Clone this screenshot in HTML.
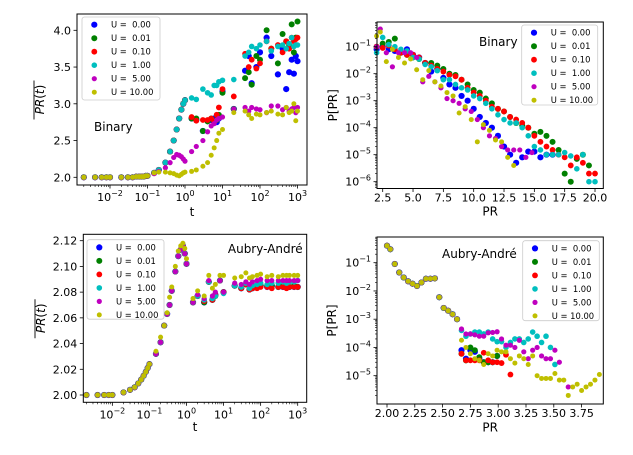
<!DOCTYPE html>
<html><head><meta charset="utf-8"><style>
html,body{margin:0;padding:0;background:#fff;}
svg{display:block;font-family:"DejaVu Sans","Liberation Sans",sans-serif;}
</style></head><body>
<svg id="fig" width="633" height="455" viewBox="0 0 633 455" xmlns="http://www.w3.org/2000/svg"></svg>
<script>
// ---- shared legend data ----
const seriesLabels=['U =  0.00','U =  0.01','U =  0.10','U =  1.00','U =  5.00','U = 10.00'];
const seriesColors=['#0000ff','#008000','#ff0000','#00bfbf','#bf00bf','#bfbf00'];

// ---- Panel 1: Binary PR(t) ----
const binT=[0.002,0.004,0.006,0.008,0.01,0.02,0.03,0.04,0.05,0.06,0.07,0.08,0.09,0.1,
 0.15,0.2,0.3,0.4,0.5,0.6,0.7,0.8,0.9,1.0,
 1.5,2,3,4,5,6,7,8,10,20,40,50,60,80,100,150,200,300,400,500,600,700,800,900,1000];
const binEarly=[2,2,2,2,2,2,2,2,2.01,2.01,2.01,2.01,2.02,2.02];
const binMidHigh=[2.06,2.1,2.2,2.35,2.5,2.65,2.8,2.92,3.0,3.05];
const binMidU5=[2.05,2.08,2.13,2.2,2.27,2.31,2.3,2.28,2.25,2.22];
const binMidU10=[2.06,2.07,2.07,2.06,2.05,2.03,2.02,2.04,2.06,2.07];
const binLateU0=[2.8,2.78,2.63,2.77,2.78,2.8,2.75,2.8,3.17,2.93,3.45,3.65,3.28,3.5,3.7,3.9,3.65,3.4,3.75,3.2,3.43,3.6,3.41,3.65,3.58];
const binLateU001=[2.8,2.8,2.63,2.76,2.8,2.76,2.78,2.85,3.15,2.93,3.35,3.43,3.26,3.65,3.6,4.0,3.75,3.55,3.95,3.85,3.8,4.08,3.7,3.9,4.12];
const binLateU01=[2.82,2.77,2.78,2.78,2.8,2.76,2.85,2.95,3.2,3.1,3.68,3.5,3.6,3.48,3.55,3.85,3.75,3.8,3.7,3.85,3.75,3.9,3.85,3.88,3.9];
const binLateU1=[3.08,3.06,3.2,3.15,3.12,3.25,3.25,3.3,3.32,3.33,3.65,3.7,3.78,3.75,3.8,3.85,3.72,3.78,3.8,3.75,3.82,3.9,3.78,3.8,3.8];
const binLateU5=[2.35,2.42,2.5,2.62,2.7,2.73,2.78,2.8,2.82,2.93,2.95,2.9,2.95,2.93,2.92,2.88,2.97,2.97,2.92,2.95,2.9,2.93,2.95,2.88,2.95];
const binLateU10=[2.08,2.1,2.15,2.2,2.3,2.4,2.5,2.6,2.65,2.88,2.9,2.85,2.8,2.86,2.85,2.88,2.9,2.86,2.85,2.95,2.88,2.9,3.0,2.77,2.9];

// ---- Panel 3: Aubry-André PR(t) ----
const aaT=[0.002,0.004,0.006,0.008,0.01,0.02,0.03,0.04,0.05,0.06,0.07,0.08,0.09,0.1,0.15,0.2,0.25,0.3,0.35,0.4,0.5,0.6,0.7,0.8,0.9,1.0,
 1.5,2,3,4,5,6,8,10,20,30,40,50,60,80,100,150,200,300,400,500,600,800,1000];
const aaEarly=[2.000,2.000,2.000,2.000,2.000,2.002,2.004,2.006,2.009,2.012,2.015,2.018,2.021,2.024,2.032,2.041,2.054,2.063,2.070,2.081,2.096,2.108,2.113,2.116,2.110,2.102];
const aaEarlyU10=[2.000,2.000,2.000,2.000,2.000,2.002,2.004,2.006,2.009,2.012,2.015,2.018,2.021,2.024,2.034,2.045,2.054,2.064,2.076,2.084,2.100,2.112,2.116,2.118,2.114,2.106];
const aaLateU0=[2.072,2.077,2.072,2.088,2.074,2.078,2.089,2.080,2.085,2.083,2.086,2.082,2.083,2.084,2.085,2.084,2.085,2.084,2.084,2.085,2.084,2.084,2.084];
const aaLateU001=[2.072,2.077,2.072,2.088,2.074,2.077,2.089,2.080,2.085,2.083,2.086,2.082,2.083,2.084,2.085,2.085,2.085,2.084,2.085,2.085,2.084,2.085,2.084];
const aaLateU01=[2.072,2.077,2.073,2.088,2.074,2.078,2.089,2.080,2.085,2.083,2.086,2.082,2.083,2.083,2.084,2.084,2.083,2.084,2.084,2.083,2.084,2.084,2.084];
const aaLateU1=[2.072,2.077,2.074,2.088,2.075,2.077,2.089,2.079,2.085,2.084,2.087,2.083,2.085,2.086,2.087,2.086,2.087,2.087,2.088,2.087,2.088,2.088,2.089];
const aaLateU5=[2.072,2.078,2.075,2.089,2.077,2.080,2.089,2.080,2.087,2.086,2.088,2.086,2.088,2.089,2.090,2.089,2.089,2.089,2.089,2.089,2.089,2.089,2.089];
const aaLateU10=[2.075,2.081,2.077,2.093,2.083,2.086,2.093,2.093,2.091,2.092,2.095,2.091,2.092,2.093,2.094,2.092,2.093,2.092,2.093,2.093,2.093,2.093,2.093];

// ---- Panel 2: Binary P[PR] ----
const pbX0=[2,2.5,3,3.5,4,4.5,5,5.5,6,6.5,7,7.5,8,8.5,9,9.5,10,10.5,11,11.5,12,12.5,13,13.5,14,14.5,15,15.5,16,16.5];
const pbP0=[8e-2,1e-1,8e-2,7e-2,6e-2,8e-2,5e-2,4e-2,2.5e-2,1.2e-2,1.5e-2,7e-3,4e-3,3e-3,1.5e-3,1e-3,5e-4,2.5e-4,1.5e-4,1e-4,5e-5,2e-5,1e-5,5e-6,8e-6,1.3e-5,1.3e-5,8e-6,1e-5,1e-5];
const pbX1=[2,2.5,3,3.5,4,4.5,5,5.5,6,6.5,7,7.5,8,8.5,9,9.5,10,10.5,11,11.5,12,12.5,13,13.5,14,14.5,15,15.5,16,16.5,17,17.5,18,18.5,19,19.5];
const pbP1=[1e-1,1.3e-1,1.5e-1,2e-1,6e-2,5e-2,4e-2,3.5e-2,2.5e-2,2.5e-2,2e-2,1.5e-2,1e-2,9e-3,6e-3,4e-3,2.5e-3,2e-3,1.2e-3,8e-4,5e-4,4e-4,2.5e-4,1.5e-4,1.2e-4,1e-4,6e-5,7e-5,5e-5,3e-5,1.5e-5,2e-6,1e-6,7e-6,1e-5,4e-6];
const pbX2=[2,2.5,3,3.5,4,4.5,5,5.5,6,6.5,7,7.5,8,8.5,9,9.5,10,10.5,11,11.5,12,12.5,13,13.5,14,14.5,15,15.5,16,16.5,17,17.5,18,18.5,19,19.5,20];
const pbP2=[1e-1,9e-2,1.1e-1,8e-2,6e-2,5e-2,5e-2,4e-2,2.5e-2,2e-2,1.5e-2,1.2e-2,9e-3,8e-3,6e-3,3e-3,2e-3,1.5e-3,1e-3,6e-4,5e-4,4e-4,2.5e-4,2e-4,1.5e-4,1e-4,5e-5,3e-5,2e-5,1.5e-5,1e-5,8e-6,4e-6,8e-6,5e-6,2e-6,2e-6];
const pbX3=[2,2.5,3,3.5,4,4.5,5,5.5,6,6.5,7,7.5,8,8.5,9,9.5,10,10.5,11,11.5,12,12.5,13,13.5,14,14.5,15,15.5,16,16.5,17,17.5,18,18.5,19,19.5,20];
const pbP3=[6e-2,2.2e-1,1.2e-1,1e-1,8e-2,7e-2,4e-2,3.5e-2,2.2e-2,1.8e-2,1.3e-2,6e-3,6e-3,4e-3,3e-3,2.5e-3,1.5e-3,1.2e-3,8e-4,5e-4,3e-4,2e-4,1.5e-4,1.5e-4,1e-4,5e-5,2e-5,1.5e-5,1e-5,1e-5,1e-5,1.2e-5,9e-6,3e-6,1e-5,1e-6,1e-6];
const pbX4=[2,2.3,2.8,3.3,3.8,4.3,4.8,5.3,5.8,6.3,6.8,7.3,7.8,8.3,8.8,9.3,9.8,10.3,10.8,11.3,11.8,12.3,12.8,13.3,13.8,14.3,14.8];
const pbP4=[1e-1,4.5e-1,6e-2,1.8e-2,6e-2,6e-2,6e-2,4e-2,5e-3,8e-3,5e-3,3e-3,1.2e-3,1e-3,8e-4,5e-4,4e-4,2e-4,1e-4,5e-5,4e-5,2e-5,1.5e-5,1.5e-5,1.5e-5,8e-6,1.2e-5];
const pbX5=[2,2.3,2.8,3.3,3.8,4.3,4.8,5.3,5.8,6.3,6.8,7.3,7.8,8.3,8.8,9.3,9.8,10.3,10.8,11.3,11.8,12.3,12.8,13.3];
const pbP5=[2.5e-1,3.5e-1,2.8e-2,8e-2,4e-2,2.5e-2,3.5e-2,1.4e-2,6e-3,1.3e-2,5e-3,3.5e-3,2e-3,1.5e-3,3.5e-4,6e-4,2e-4,3e-5,1.3e-4,8e-5,3.5e-5,3e-5,8e-6,4e-6];

// ---- Panel 4: Aubry-André P[PR] ----
const paCommonX=[2.0,2.03,2.07,2.11,2.15,2.19,2.23,2.27,2.31,2.35,2.39,2.43,2.47,2.51,2.55,2.59,2.63];
const paCommonP=[4e-1,3e-1,9e-2,4.5e-2,3e-2,2.2e-2,1.8e-2,1.5e-2,2e-2,2.7e-2,2.7e-2,2.8e-2,6e-3,2.5e-3,2e-3,1.5e-3,1e-3];
const paX0=[2.67,2.71,2.75,2.79,2.83,2.87,2.91,2.95,2.99];
const paP0=[8e-5,4e-5,8e-5,7e-5,4e-5,3e-5,3e-5,3e-5,5e-5];
const paX1=[2.67,2.71,2.75,2.79,2.83,2.87,2.91,2.95,2.99];
const paP1=[6e-5,3.5e-5,1e-4,8e-5,4.5e-5,3e-5,3e-5,3e-5,5e-5];
const paX2=[2.67,2.71,2.75,2.79,2.83,2.87,2.91,2.95,2.99,3.03,3.07,3.11];
const paP2=[6e-5,3.5e-5,3.5e-5,3.5e-5,3.5e-5,6.5e-5,3.5e-5,3e-5,3e-5,2.8e-5,5.5e-5,1.1e-5];
const paX3=[2.67,2.71,2.75,2.79,2.83,2.87,2.91,2.95,2.99,3.03,3.07,3.11,3.15,3.19,3.23,3.27,3.31,3.35,3.39,3.43,3.47,3.51];
const paP3=[4e-4,2.5e-4,3e-4,3.5e-4,3.5e-4,3e-4,3.5e-4,2e-4,1.6e-4,1.6e-4,1e-4,1.5e-4,2e-4,2e-4,1.5e-4,2e-4,3.5e-4,2.5e-4,1.5e-4,2.5e-4,1e-4,2.5e-5];
const paX4=[2.67,2.71,2.75,2.79,2.83,2.87,2.91,2.95,2.99,3.03,3.07,3.11,3.15,3.19,3.23,3.27,3.31,3.35,3.39,3.43,3.47,3.51,3.55,3.63];
const paP4=[4.5e-4,3e-4,3e-4,2.8e-4,2.5e-4,2.5e-4,3.3e-4,3.4e-4,3.6e-4,2e-4,1.2e-4,1.2e-4,1e-4,1.8e-4,7e-5,4e-5,8e-5,1e-4,5e-5,4e-5,4e-5,8e-5,3e-5,4e-6];
const paX5=[2.67,2.71,2.75,2.79,2.83,2.87,2.91,2.95,2.99,3.03,3.07,3.11,3.15,3.19,3.23,3.27,3.31,3.35,3.39,3.43,3.47,3.51,3.55,3.59,3.63,3.67,3.71,3.75,3.79,3.83,3.87,3.91];
const paP5=[1.8e-4,1e-4,6e-5,4e-5,3.5e-5,2.5e-5,6e-5,5e-5,8e-5,7e-5,7e-5,4e-5,2.8e-5,5e-5,4e-5,2.5e-5,5e-5,1e-5,8e-6,8e-6,8e-6,1.2e-5,7e-6,7e-6,2e-6,4e-6,5e-6,3e-6,4e-6,5e-6,7e-6,1.1e-5];

// ---- tick label arrays ----
const linYTicks1=[2.0,2.5,3.0,3.5,4.0];
const linYTicks3=[2.00,2.02,2.04,2.06,2.08,2.10,2.12];
const logXTicks=[-2,-1,0,1,2,3];
const xTicks2=[2.5,5.0,7.5,10.0,12.5,15.0,17.5,20.0];
const logYTicks2=[-1,-2,-3,-4,-5,-6];
const xTicks4=[2.00,2.25,2.50,2.75,3.00,3.25,3.50,3.75];
const logYTicks4=[-1,-2,-3,-4,-5];

const NS='http://www.w3.org/2000/svg';
const svg=document.getElementById('fig');
function el(tag,attrs,parent){const e=document.createElementNS(NS,tag);for(const k in attrs)e.setAttribute(k,attrs[k]);(parent||svg).appendChild(e);return e;}
const RADII=[3.1,3.0,2.9,2.8,2.6,2.5];

function makePanel(p){
  const g=el('g',{});
  
  
  p.series.forEach((s,i)=>{
    const sg=el('g',{},g);
    
    
    for(let k=0;k<s.x.length;k++){
      const c=el('circle',{cx:p.fx(s.x[k]).toFixed(2),cy:p.fy(s.y[k]).toFixed(2),r:RADII[i],fill:seriesColors[i]},sg);
      
      
    }
  });
  const fr=el('rect',{x:p.L,y:p.T,width:p.R-p.L,height:p.B-p.T,fill:'none',stroke:'#000','stroke-width':1},g);
  
  
  const xg=el('g',{},g);
  
  
  p.xTicks.forEach(v=>{
    const x=p.fx(p.xLog?Math.pow(10,v):v);
    el('line',{x1:x,x2:x,y1:p.B,y2:p.B+3.5,stroke:'#000','stroke-width':0.8},xg);
    const t=el('text',{x:x,y:p.B+(p.xLog?16:13),'font-size':11,'text-anchor':'middle',fill:'#000'},xg);
    if(p.xLog){t.textContent='10';const s=el('tspan',{dy:-5,'font-size':8},t);s.textContent=(v<0?'\u2212':'')+Math.abs(v);}
    else t.textContent=v.toFixed(p.xDec);
  });
  if(p.xLog){
    for(let d=-3;d<=3;d++)for(let m=2;m<=9;m++){const v=m*Math.pow(10,d);const x=p.fx(v);if(x>p.L&&x<p.R)el('line',{x1:x,x2:x,y1:p.B,y2:p.B+2,stroke:'#000','stroke-width':0.6},xg);}
  }
  const xl=el('text',{x:(p.L+p.R)/2,y:p.xlY,'font-size':12,'text-anchor':'middle'},g);
  xl.textContent=p.xLabel;
  
  
  const yg=el('g',{},g);
  
  
  p.yTicks.forEach(v=>{
    const y=p.fy(p.yLog?Math.pow(10,v):v);
    el('line',{x1:p.L-3.5,x2:p.L,y1:y,y2:y,stroke:'#000','stroke-width':0.8},yg);
    const t=el('text',{x:p.L-6,y:y+4,'font-size':11,'text-anchor':'end'},yg);
    if(p.yLog){t.textContent='10';const s=el('tspan',{dy:-5,'font-size':8},t);s.textContent='\u2212'+Math.abs(v);}
    else t.textContent=v.toFixed(p.yDec);
  });
  if(p.yLog){
    for(let d=-7;d<=0;d++)for(let m=2;m<=9;m++){const v=m*Math.pow(10,d);const y=p.fy(v);if(y>p.T&&y<p.B)el('line',{x1:p.L-2,x2:p.L,y1:y,y2:y,stroke:'#000','stroke-width':0.6},yg);}
  }
  const yl=el('text',{x:p.ylX,y:(p.T+p.B)/2,'font-size':12,'text-anchor':'middle',transform:`rotate(-90 ${p.ylX} ${(p.T+p.B)/2})`},g);
  
  
  if(p.yOver){
    const cx=p.ylX-10,cy=(p.T+p.B)/2;
    const ol=el('line',{x1:cx,x2:cx,y1:cy-19,y2:cy+20,stroke:'#000','stroke-width':0.9},g);
    
    
    yl.innerHTML='<tspan font-style="italic">PR</tspan>(<tspan font-style="italic">t</tspan>)';}
  else yl.textContent=p.yLabel;
  const an=el('text',{x:p.annX,y:p.annY,'font-size':12,'text-anchor':p.annAnchor},g);
  an.textContent=p.ann;
  
  
  const lg=el('g',{},g);
  
  
  el('rect',{x:p.lx,y:p.ly,width:p.lw,height:p.lh,rx:2.5,fill:'#fff','fill-opacity':0.85,stroke:'#cccccc','stroke-width':0.8},lg);
  seriesLabels.forEach((lab,i)=>{
    const yy=p.ly+7.7+i*13.5;
    const e=el('g',{},lg);
    
    
    el('circle',{cx:p.lx+12.3,cy:yy,r:RADII[i],fill:seriesColors[i]},e);
    const t=el('text',{x:p.lx+29,y:yy+3,'font-size':8.4},e);
    t.setAttribute('style','white-space:pre');
    t.textContent=lab;
  });
}

makePanel({name:'binary-pr-time-panel',L:77,R:307,T:14,B:185,
  fx:t=>185+37.5*Math.log10(t), fy:v=>177.3-(v-2)*73.5,
  xLog:true,xTicks:logXTicks,yTicks:linYTicks1,yDec:1,xLabel:'t',xlY:216,ylX:44,yOver:true,
  ann:'Binary',annX:94,annY:131,annAnchor:'start',lx:82,ly:17,lw:78,lh:83,
  series:[
   {x:binT,y:binEarly.concat(binMidHigh,binLateU0)},
   {x:binT,y:binEarly.concat(binMidHigh,binLateU001)},
   {x:binT,y:binEarly.concat(binMidHigh,binLateU01)},
   {x:binT,y:binEarly.concat(binMidHigh,binLateU1)},
   {x:binT,y:binEarly.concat(binMidU5,binLateU5)},
   {x:binT,y:binEarly.concat(binMidU10,binLateU10)}]});
makePanel({name:'binary-distribution-panel',L:377,R:603.3,T:22,B:188.5,
  fx:v=>382.7+(v-2.5)/2.5*30.33, fy:v=>46.7-27*(Math.log10(v)+1),
  yLog:true,xTicks:xTicks2,xDec:1,yTicks:logYTicks2,xLabel:'PR',xlY:215.5,ylX:337,yLabel:'P[PR]',
  ann:'Binary',annX:479,annY:46,annAnchor:'start',lx:521.7,ly:25,lw:76,lh:80,
  series:[{x:pbX0,y:pbP0},{x:pbX1,y:pbP1},{x:pbX2,y:pbP2},{x:pbX3,y:pbP3},{x:pbX4,y:pbP4},{x:pbX5,y:pbP5}]});
makePanel({name:'aubry-andre-pr-time-panel',L:83.3,R:306.7,T:234.3,B:402.3,
  fx:t=>297.7+37.07*(Math.log10(t)-3), fy:v=>395-(v-2)/0.12*154.3,
  xLog:true,xTicks:logXTicks,yTicks:linYTicks3,yDec:2,xLabel:'t',xlY:431,ylX:45,yOver:true,
  ann:'Aubry-André',annX:302.7,annY:253,annAnchor:'end',lx:87,ly:239.7,lw:77,lh:79.5,
  series:[
   {x:aaT,y:aaEarly.concat(aaLateU0)},
   {x:aaT,y:aaEarly.concat(aaLateU001)},
   {x:aaT,y:aaEarly.concat(aaLateU01)},
   {x:aaT,y:aaEarly.concat(aaLateU1)},
   {x:aaT,y:aaEarly.concat(aaLateU5)},
   {x:aaT,y:aaEarlyU10.concat(aaLateU10)}]});
makePanel({name:'aubry-andre-distribution-panel',L:377,R:603.3,T:237,B:404,
  fx:v=>387+(v-2)/0.25*27.8, fy:v=>262.7-28.25*(Math.log10(v)+1),
  yLog:true,xTicks:xTicks4,xDec:2,yTicks:logYTicks4,xLabel:'PR',xlY:431.5,ylX:336,yLabel:'P[PR]',
  ann:'Aubry-André',annX:442,annY:258,annAnchor:'start',lx:522.7,ly:240.7,lw:76.6,lh:80,
  series:[
   {x:paCommonX.concat(paX0),y:paCommonP.concat(paP0)},
   {x:paCommonX.concat(paX1),y:paCommonP.concat(paP1)},
   {x:paCommonX.concat(paX2),y:paCommonP.concat(paP2)},
   {x:paCommonX.concat(paX3),y:paCommonP.concat(paP3)},
   {x:paCommonX.concat(paX4),y:paCommonP.concat(paP4)},
   {x:paCommonX.concat(paX5),y:paCommonP.concat(paP5)}]});
</script>
</body></html>
